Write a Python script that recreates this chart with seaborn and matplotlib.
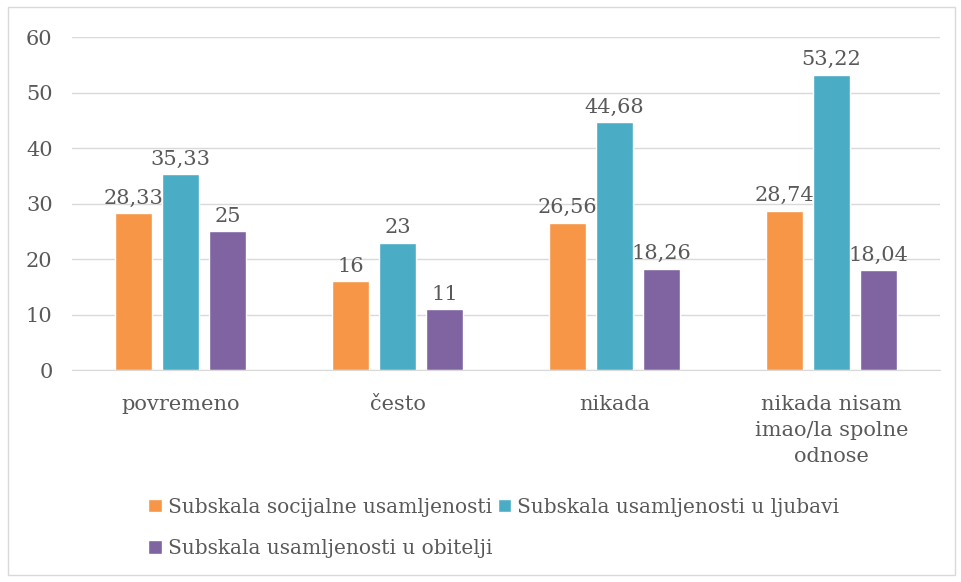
import pandas as pd
import numpy as np
import matplotlib.pyplot as plt
import seaborn as sns
from matplotlib.patches import Rectangle

sns.set_style("white")
plt.rcParams["font.family"] = ["DejaVu Serif", "Liberation Serif"]

# Data
categories = ["povremeno", "često", "nikada", "nikada nisam\nimao/la spolne\nodnose"]
series = [
    "Subskala socijalne usamljenosti",
    "Subskala usamljenosti u ljubavi",
    "Subskala usamljenosti u obitelji",
]
social = [28.33, 16, 26.56, 28.74]
love = [35.33, 23, 44.68, 53.22]
family = [25, 11, 18.26, 18.04]
colors = ["#F79646", "#4BACC6", "#8064A2"]
text_color = "#595959"
grid_color = "#D9D9D9"

df = pd.DataFrame({
    "kategorija": categories * 3,
    "subskala": [series[0]] * 4 + [series[1]] * 4 + [series[2]] * 4,
    "vrijednost": social + love + family,
})

fig = plt.figure(figsize=(9.61, 5.82), dpi=100)
ax = fig.add_axes([0.075, 0.364, 0.903, 0.572])

sns.barplot(
    data=df,
    x="kategorija",
    y="vrijednost",
    hue="subskala",
    palette=colors,
    saturation=1,
    width=0.65,
    gap=0.2,
    ax=ax,
)

# Value labels with decimal comma
for cont in ax.containers:
    labels = []
    for v in cont.datavalues:
        s = f"{v:.2f}".rstrip("0").rstrip(".")
        labels.append(s.replace(".", ","))
    ax.bar_label(cont, labels=labels, padding=4, fontsize=15, color=text_color)

ax.set_ylim(0, 60)
ax.set_yticks(range(0, 61, 10))
ax.yaxis.grid(True, color=grid_color, linewidth=1)
ax.set_axisbelow(True)
ax.set_xlabel("")
ax.set_ylabel("")
for s in ["top", "right", "left"]:
    ax.spines[s].set_visible(False)
ax.spines["bottom"].set_color(grid_color)
ax.tick_params(axis="both", length=0, labelsize=15, labelcolor=text_color)
ax.tick_params(axis="x", pad=18)
ax.tick_params(axis="y", pad=14)
for t in ax.get_xticklabels():
    t.set_linespacing(1.45)

# Legend: two rows
handles, labels = ax.get_legend_handles_labels()
ax.get_legend().remove()
order = [0, 2, 1]
leg = fig.legend(
    [handles[i] for i in order],
    [labels[i] for i in order],
    loc="center",
    bbox_to_anchor=(0.514, 0.093),
    ncol=2,
    frameon=False,
    fontsize=14.5,
    handlelength=0.65,
    handleheight=0.65,
    handletextpad=0.3,
    columnspacing=0.3,
    labelspacing=1.1,
)
for t in leg.get_texts():
    t.set_color(text_color)

# Chart border
fig.patches.append(Rectangle((8 / 961, 7 / 582), 947 / 961, 568 / 582,
                             transform=fig.transFigure, fill=False,
                             edgecolor=grid_color, linewidth=1))

fig.savefig("out.png", dpi=100)
